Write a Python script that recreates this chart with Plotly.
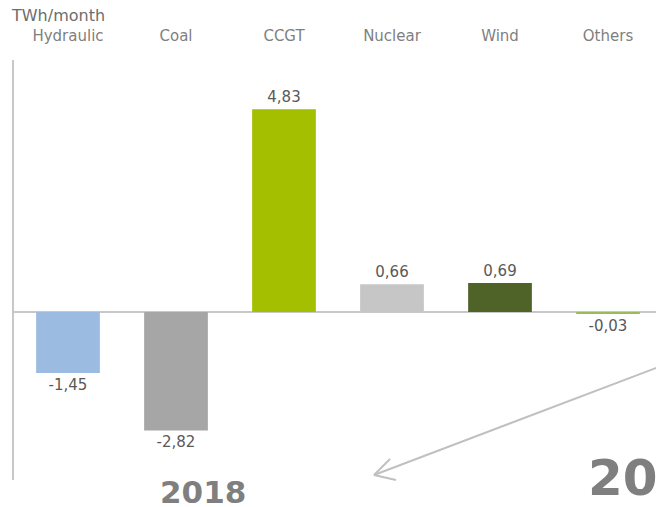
import plotly.graph_objects as go

# ==================== DADOS ====================
categorias = ["Hydraulic", "Coal", "CCGT", "Nuclear", "Wind", "Others"]
valores = [-1.45, -2.82, 4.83, 0.66, 0.69, -0.03]
cores = ["#9bbbe1", "#a6a6a6", "#a3bf00", "#c6c6c6", "#4f6228", "#9bbb59"]

# a página tem margem de 8px no body -> figura menor e coordenadas deslocadas
OFF = 8
W, H = 664 - OFF, 507 - OFF
M_L, M_R, M_T, M_B = 6, 2, 52, 27
PW, PH = W - M_L - M_R, H - M_T - M_B


def px2paper(x, y):
    # pixel da janela -> coordenadas paper
    return (x - OFF - M_L) / PW, (H - M_B - (y - OFF)) / PH


fig = go.Figure(go.Bar(
    x=categorias, y=valores,
    marker=dict(color=cores, line=dict(width=0)),
    texttemplate="%{y:.2f}", textposition="outside",
    textfont=dict(size=15, color="#595959"),
    cliponaxis=False,
))

# seta decorativa (ponta aberta)
x0, y0 = px2paper(664, 365)
x1, y1 = px2paper(374, 475)
xa, ya = px2paper(390, 459)
xb, yb = px2paper(396, 480)
for (ax, ay, bx, by) in [(x0, y0, x1, y1), (x1, y1, xa, ya), (x1, y1, xb, yb)]:
    fig.add_shape(type="line", xref="paper", yref="paper", x0=ax, y0=ay, x1=bx, y1=by,
                  line=dict(color="#c0c0c0", width=2))

tx, ty = px2paper(9, 16)
fig.add_annotation(text="TWh/month", xref="paper", yref="paper", x=tx, y=ty,
                   xanchor="left", yanchor="middle", showarrow=False,
                   font=dict(size=16, color="#6d6d6d"))
ax_, ay_ = px2paper(203, 492)
fig.add_annotation(text="<b>2018</b>", xref="paper", yref="paper", x=ax_, y=ay_,
                   xanchor="center", yanchor="middle", showarrow=False,
                   font=dict(size=31, color="#7f7f7f"))
bx_, by_ = px2paper(586, 478)
fig.add_annotation(text="<b>2019</b>", xref="paper", yref="paper", x=bx_, y=by_,
                   xanchor="left", yanchor="middle", showarrow=False,
                   font=dict(size=50, color="#7f7f7f"))

fig.update_layout(
    width=W, height=H,
    margin=dict(l=M_L, r=M_R, t=M_T, b=M_B),
    template="plotly_white",
    plot_bgcolor="white", paper_bgcolor="white",
    separators=",.",
    bargap=0.41,
    showlegend=False,
    font=dict(family="DejaVu Sans", color="#7f7f7f"),
)
fig.update_xaxes(side="top", showgrid=False, showline=False, ticks="",
                 tickfont=dict(size=15, color="#7f7f7f"), ticklabelstandoff=15)
fig.update_yaxes(range=[-4, 6], showgrid=False, showticklabels=False,
                 showline=True, linecolor="#c8c8c8", linewidth=2,
                 zeroline=True, zerolinecolor="#c8c8c8", zerolinewidth=2)

fig.write_html("out.html")
